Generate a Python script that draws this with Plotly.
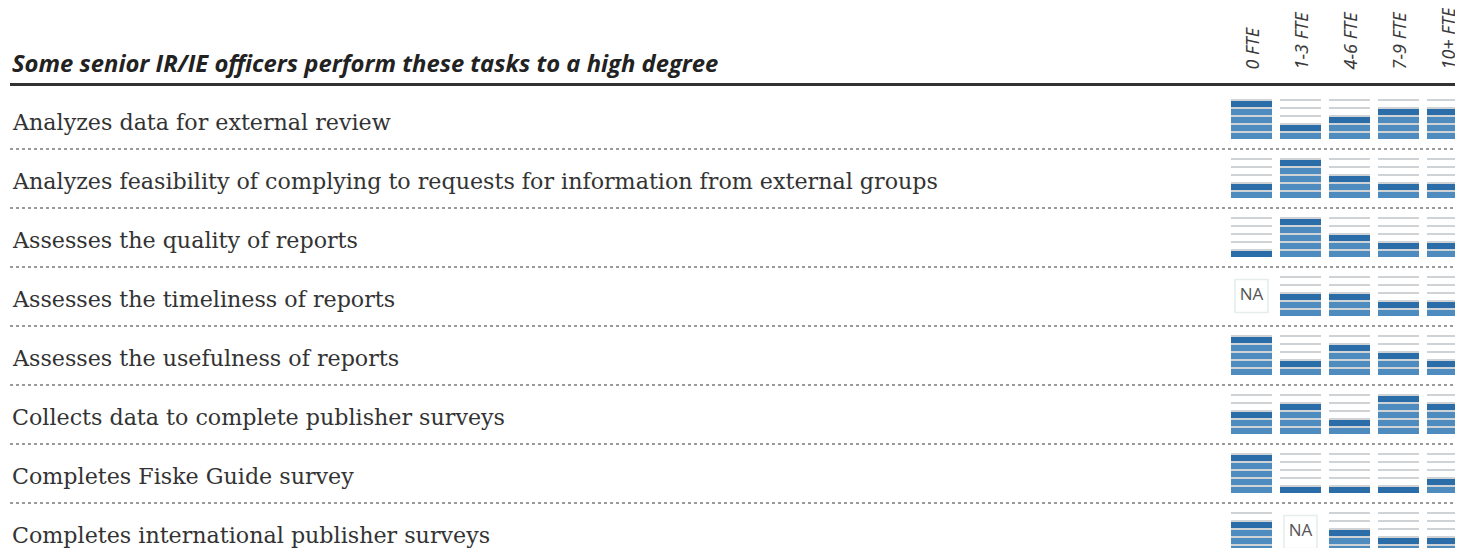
import plotly.graph_objects as go

TITLE = "Some senior IR/IE officers perform these tasks to a high degree"

TASKS = [
    "Analyzes data for external review",
    "Analyzes feasibility of complying to requests for information from external groups",
    "Assesses the quality of reports",
    "Assesses the timeliness of reports",
    "Assesses the usefulness of reports",
    "Collects data to complete publisher surveys",
    "Completes Fiske Guide survey",
    "Completes international publisher surveys",
]

FTE_LABELS = ["0 FTE", "1-3 FTE", "4-6 FTE", "7-9 FTE", "10+ FTE"]

# degree level (1-5 stripes filled), None = NA
FTE_0 = [5, 2, 1, None, 5, 3, 5, 4]
FTE_1_3 = [2, 5, 5, 3, 2, 4, 1, None]
FTE_4_6 = [3, 3, 3, 3, 4, 2, 1, 3]
FTE_7_9 = [4, 2, 2, 2, 3, 5, 1, 2]
FTE_10P = [4, 2, 2, 2, 2, 4, 2, 2]

LEVELS = [FTE_0, FTE_1_3, FTE_4_6, FTE_7_9, FTE_10P]
N_SLOTS = 5

DARK = "#2a6da8"
LIGHT = "#4e8bbf"
RULE = "#cfd3d6"

# geometry (px); the page body adds an 8px margin
PAGE_PAD = 8
W, H = 1463 - PAGE_PAD, 548 - PAGE_PAD
ROW_PX = 59.0
COL_PX = 49.0
SLOT_PX = 8.0
LINE_PX = 1.6
ICON_W_PX = 41.0
TOP = 86 - PAGE_PAD
LEFT = 10 - PAGE_PAD
ROW0_PX = 119 - 86
COL0_PX = 1251.5 - 10

slot = SLOT_PX / ROW_PX
line = LINE_PX / ROW_PX
half_icon = N_SLOTS * slot / 2

line_x, line_base = [], []
dark_x, dark_base = [], []
light_x, light_base = [], []
na_x, na_y = [], []

for c, col in enumerate(LEVELS):
    for r, lvl in enumerate(col):
        if lvl is None:
            na_x.append(c)
            na_y.append(r)
            continue
        bottom = r + half_icon
        for s in range(N_SLOTS):
            top = bottom - (s + 1) * slot
            line_x.append(c)
            line_base.append(top)
            if s < lvl:
                if s == lvl - 1:
                    dark_x.append(c)
                    dark_base.append(top + line)
                else:
                    light_x.append(c)
                    light_base.append(top + line)

bw = ICON_W_PX / COL_PX
fig = go.Figure()
fig.add_trace(go.Bar(x=line_x, base=line_base, y=[line] * len(line_x), width=bw,
                     marker=dict(color=RULE, line=dict(width=0)), hoverinfo="skip"))
fig.add_trace(go.Bar(x=light_x, base=light_base, y=[slot - line] * len(light_x), width=bw,
                     marker=dict(color=LIGHT, line=dict(width=0)), hoverinfo="skip"))
fig.add_trace(go.Bar(x=dark_x, base=dark_base, y=[slot - line] * len(dark_x), width=bw,
                     marker=dict(color=DARK, line=dict(width=0)), hoverinfo="skip"))
fig.add_trace(go.Scatter(
    x=na_x, y=na_y, mode="markers+text", text=["NA"] * len(na_x),
    textposition="middle center",
    textfont=dict(family="Open Sans", size=17, color="#555555"),
    marker=dict(symbol="square", size=33, color="white", line=dict(color="#e4eeeb", width=1.5)),
    hoverinfo="skip",
))

for r, task in enumerate(TASKS):
    fig.add_annotation(x=0, xref="paper", y=r, yref="y", text=task, showarrow=False,
                       xanchor="left", yanchor="middle", yshift=-3,
                       font=dict(family="DejaVu Serif", size=22.2, color="#333333"))

plot_h = H - TOP
fig.add_annotation(x=0, xref="paper", y=1 + (86 - 63) / plot_h, yref="paper",
                   text=f"<b><i>{TITLE}</i></b>", showarrow=False,
                   xanchor="left", yanchor="middle",
                   font=dict(family="Open Sans", size=23.8, color="#222222"))

for c, lab in enumerate(FTE_LABELS):
    fig.add_annotation(x=c, xref="x", y=1 + (86 - 72) / plot_h, yref="paper",
                       text=f"<i>{lab}</i>", showarrow=False, textangle=-90,
                       xanchor="center", yanchor="bottom",
                       font=dict(family="Noto Sans", size=18, color="#3a3a3a"))

plot_w = W - LEFT
fig.update_xaxes(range=[-COL0_PX / COL_PX, (plot_w - COL0_PX) / COL_PX],
                 side="top", showline=True, linecolor="#333333", linewidth=3,
                 showgrid=False, zeroline=False, showticklabels=False, ticks="")
fig.update_yaxes(range=[(plot_h - ROW0_PX) / ROW_PX, -ROW0_PX / ROW_PX],
                 tickvals=[r + 30 / ROW_PX for r in range(len(TASKS) - 1)],
                 showgrid=True, gridcolor="#9a9a9a", gridwidth=1.5, griddash="dot",
                 zeroline=False, showticklabels=False, ticks="", showline=False)
fig.update_layout(
    width=W, height=H, barmode="overlay", bargap=0, showlegend=False,
    plot_bgcolor="white", paper_bgcolor="white",
    margin=dict(l=LEFT, r=0, t=TOP, b=0),
)
fig.write_html("out.html")
